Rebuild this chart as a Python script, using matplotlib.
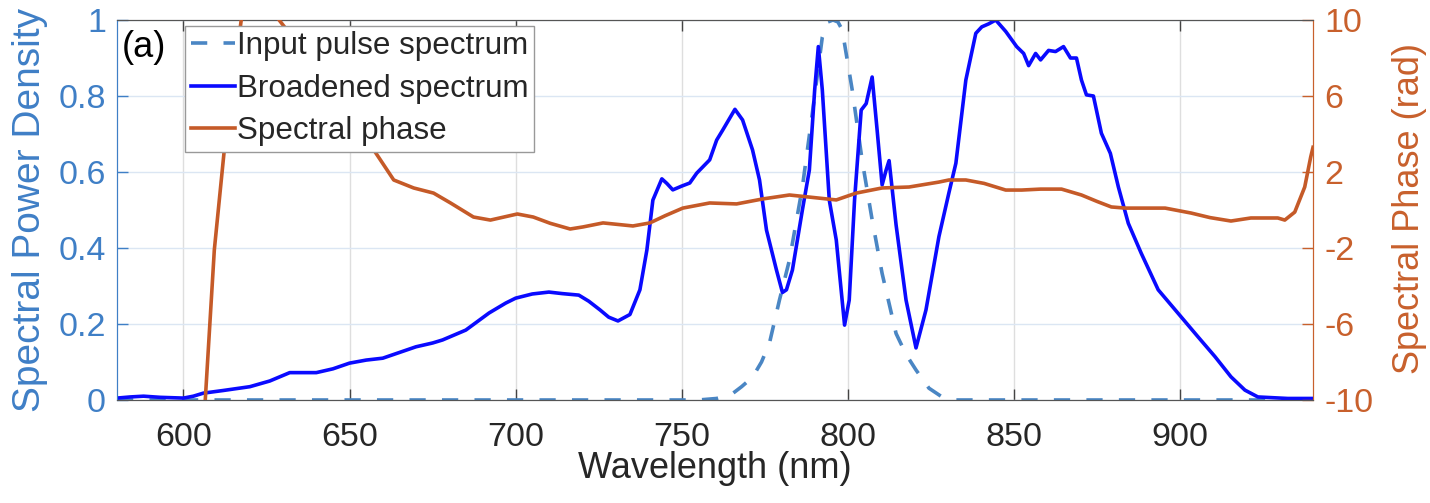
import matplotlib
matplotlib.use("Agg")
import matplotlib.pyplot as plt
import numpy as np

plt.rcParams['font.family'] = ['Liberation Sans', 'DejaVu Sans']
plt.rcParams['axes.unicode_minus'] = False

# ---------------- data ----------------
bro_wl = [580, 584, 588, 593, 600, 603, 606, 612, 620, 626, 632, 640, 645, 650, 655, 660,
          665, 670, 675, 678, 685, 692, 697, 700, 705, 710, 714, 719, 722, 725.4, 728,
          730.8, 734.4, 737.4, 739.5, 741.3, 744, 745.5, 747.3, 750, 752.4, 754.5, 758.4,
          760.5, 762.3, 766, 768.3, 771.3, 773.4, 775.5, 778.5, 780.3, 781.5, 783.3, 786.3,
          788.4, 790, 791.1, 792.3, 794.4, 796.5, 799, 800.4, 802, 804, 805.5, 807.3, 808.8,
          810.3, 811.5, 812.4, 814.5, 817.5, 820.5, 823.5, 827.4, 830.4, 832.5, 835.5, 838.5,
          840.3, 842.4, 844.5, 847.5, 850.8, 852.9, 854.4, 856.5, 858, 860.4, 862.5, 864.9,
          867, 868.8, 870.3, 871.8, 873.9, 876.3, 879, 881.4, 884.4, 888.3, 893.4, 899.4,
          905.4, 910.5, 915.3, 919.5, 923.4, 932.4, 940]
bro_val = [0.005, 0.008, 0.010, 0.007, 0.005, 0.010, 0.018, 0.025, 0.035, 0.050, 0.072, 0.072,
           0.082, 0.097, 0.105, 0.110, 0.125, 0.140, 0.150, 0.158, 0.184, 0.229, 0.255, 0.268,
           0.279, 0.284, 0.280, 0.276, 0.260, 0.237, 0.218, 0.208, 0.225, 0.290, 0.395, 0.526,
           0.582, 0.570, 0.553, 0.563, 0.571, 0.597, 0.632, 0.684, 0.710, 0.765, 0.737, 0.658,
           0.579, 0.447, 0.342, 0.283, 0.290, 0.342, 0.500, 0.605, 0.816, 0.930, 0.816, 0.526,
           0.421, 0.197, 0.263, 0.526, 0.763, 0.780, 0.850, 0.710, 0.566, 0.605, 0.630, 0.461,
           0.263, 0.137, 0.237, 0.430, 0.545, 0.623, 0.842, 0.965, 0.982, 0.990, 1.000, 0.970,
           0.930, 0.912, 0.880, 0.912, 0.895, 0.920, 0.917, 0.930, 0.900, 0.900, 0.842, 0.803,
           0.800, 0.702, 0.649, 0.561, 0.465, 0.386, 0.290, 0.228, 0.166, 0.114, 0.061, 0.026,
           0.008, 0.004, 0.004]

inp_wl = [580, 700, 755, 760.5, 765.3, 768, 771.3, 774, 776.4, 779.4, 782.4, 786.3, 789.3,
          792.3, 794, 795.5, 797, 798.3, 801.3, 804.3, 807.3, 810.3, 814.5, 817.5, 820.5,
          824.4, 828, 832, 940]
inp_val = [0, 0, 0, 0.004, 0.017, 0.035, 0.060, 0.100, 0.150, 0.263, 0.368, 0.560, 0.755,
           0.955, 0.995, 1.0, 0.995, 0.974, 0.816, 0.630, 0.474, 0.333, 0.175, 0.120, 0.079,
           0.031, 0.010, 0, 0]

ph_wl = [606.4, 609.3, 612.3, 617.4, 620, 624, 628.8, 640, 650, 657.3, 663.3, 669.3, 675.3,
         680.4, 687.3, 692.4, 700.5, 705.3, 710.4, 716.4, 720.3, 726.3, 735.3, 740.4, 745,
         750.3, 758.4, 766.5, 774.3, 782.4, 788.4, 796.5, 802.5, 810.3, 818.4, 827.4, 830.4,
         835.5, 841, 847.5, 852.3, 858, 864.3, 870.3, 875, 879.3, 883.5, 895.5, 903.3, 909,
         915.3, 921.3, 929.4, 931.5, 934.5, 937.5, 939.3, 940]
ph_val = [-10.5, -2.1, 3.16, 10, 11.5, 12, 10, 7.5, 5.0, 3.16, 1.58, 1.16, 0.89, 0.37, -0.37,
          -0.53, -0.21, -0.37, -0.70, -1.0, -0.89, -0.68, -0.84, -0.68, -0.30, 0.10, 0.37,
          0.32, 0.58, 0.79, 0.68, 0.53, 0.89, 1.16, 1.21, 1.47, 1.58, 1.58, 1.40, 1.05, 1.05,
          1.10, 1.10, 0.79, 0.45, 0.16, 0.10, 0.10, -0.16, -0.40, -0.58, -0.42, -0.42, -0.53,
          -0.11, 1.21, 2.79, 3.3]

x_ticks = [600, 650, 700, 750, 800, 850, 900]
yl_ticks = [0, 0.2, 0.4, 0.6, 0.8, 1]
yl_labels = ['0', '0.2', '0.4', '0.6', '0.8', '1']
yr_ticks = [-10, -6, -2, 2, 6, 10]
labels = ['Input pulse spectrum', 'Broadened spectrum', 'Spectral phase']

# ---------------- style ----------------
C_LEFT = '#3f7fc6'
C_INPUT = '#4a86c4'
C_BRO = '#0a0aff'
C_RIGHT = '#c8602c'
C_PHASE = '#c55a28'
TXT = '#262626'
TICK_FS = 24.5

fig = plt.figure(figsize=(14.3, 5.03), dpi=100)
ax = fig.add_axes([0.0818, 0.2048, 0.8364, 0.7554])
ax2 = ax.twinx()

l_in, = ax.plot(inp_wl, inp_val, color=C_INPUT, lw=2.6, linestyle=(0, (4.5, 4.5)), zorder=2)
l_br, = ax.plot(bro_wl, bro_val, color=C_BRO, lw=2.6, zorder=3)
l_ph, = ax2.plot(ph_wl, ph_val, color=C_PHASE, lw=2.6, zorder=3)

ax.set_xlim(580, 940)
ax.set_ylim(0, 1)
ax2.set_ylim(-10, 10)

ax.set_xticks(x_ticks)
ax.set_yticks(yl_ticks)
ax.set_yticklabels(yl_labels)
ax2.set_yticks(yr_ticks)

ax.xaxis.grid(True, color='#dedede', lw=1)
ax.yaxis.grid(True, color='#dbe6f3', lw=1)
ax.set_axisbelow(True)

ax.tick_params(axis='x', direction='in', top=True, length=8, width=1, colors='#444444',
               labelsize=TICK_FS, pad=16, labelcolor=TXT)
ax.tick_params(axis='y', direction='in', length=8, width=1, colors=C_LEFT,
               labelsize=TICK_FS, pad=8)
ax2.tick_params(axis='y', direction='in', length=8, width=1, colors=C_RIGHT,
                labelsize=TICK_FS, pad=8)

for a in (ax, ax2):
    a.spines['top'].set_color('#555555')
    a.spines['bottom'].set_color('#555555')
    a.spines['left'].set_color(C_LEFT)
    a.spines['right'].set_color(C_RIGHT)

ax.set_xlabel('Wavelength (nm)', fontsize=26, color=TXT)
ax.xaxis.set_label_coords(0.5, -0.135)
ax.set_ylabel('Spectral Power Density', fontsize=28, color=C_LEFT)
ax.yaxis.set_label_coords(-0.058, 0.5)
ax2.set_ylabel('Spectral Phase (rad)', fontsize=26, color=C_RIGHT)
ax2.yaxis.set_label_coords(1.066, 0.505)

ax.text(0.004, 0.975, '(a)', transform=ax.transAxes, fontsize=26, color='black',
        ha='left', va='top')

leg = ax2.legend([l_in, l_br, l_ph], labels, loc='upper left',
                 bbox_to_anchor=(0.057, 0.985), borderaxespad=0, fontsize=22.6,
                 handlelength=1.4, handletextpad=0.06, labelspacing=0.4, borderpad=0.18,
                 frameon=True, fancybox=False, framealpha=1, edgecolor='#999999')
leg.get_frame().set_linewidth(1)
for t in leg.get_texts():
    t.set_color(TXT)
leg.set_zorder(10)

fig.savefig('out.png', dpi=100)
